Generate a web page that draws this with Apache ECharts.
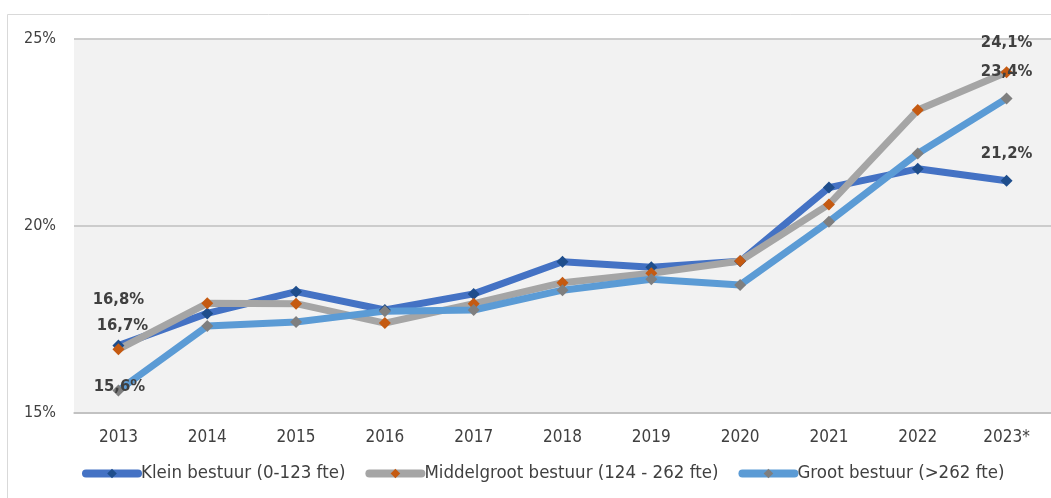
<!DOCTYPE html>
<html>
<head>
<meta charset="utf-8">
<script src="https://cdn.jsdelivr.net/npm/echarts@6/dist/echarts.min.js"></script>
<style>
  html, body { margin: 0; padding: 0; background: #fff; }
  #chart { width: 1051px; height: 498px; }
</style>
</head>
<body>
<div id="chart"></div>
<script>
const years = ['2013', '2014', '2015', '2016', '2017', '2018', '2019', '2020', '2021', '2022', '2023*'];
const yTicks = [15, 20, 25];

const seriesNames = [
  'Klein bestuur (0-123 fte)',
  'Middelgroot bestuur (124 - 262 fte)',
  'Groot bestuur (>262 fte)'
];
const klein = [16.8, 17.66, 18.24, 17.75, 18.18, 19.04, 18.89, 19.05, 21.02, 21.52, 21.2];
const middelgroot = [16.7, 17.93, 17.92, 17.4, 17.92, 18.48, 18.73, 19.06, 20.57, 23.09, 24.1];
const groot = [15.6, 17.32, 17.43, 17.72, 17.75, 18.28, 18.57, 18.42, 20.11, 21.93, 23.4];

// which points carry a value label, and how far the label sits from the point
const labelOffsets = {
  klein: { 0: [0, -46], 10: [0, -27] },
  middelgroot: { 0: [4, -24], 10: [0, -29] },
  groot: { 0: [1, -4], 10: [0, -27] }
};

const chart = echarts.init(document.getElementById('chart'), null, { renderer: 'canvas' });

const axisFont = '"DejaVu Sans Condensed", "DejaVu Sans", sans-serif';

function fmt(v) {
  return v.toFixed(1).replace('.', ',') + '%';
}

function buildData(values, offsets) {
  return values.map((v, i) => {
    if (offsets[i] === undefined) return v;
    return {
      value: v,
      label: {
        show: true,
        position: 'inside',
        offset: offsets[i],
        formatter: () => fmt(v),
        fontFamily: axisFont,
        fontWeight: 'bold',
        fontSize: 16.5,
        color: '#404040'
      }
    };
  });
}

function makeSeries(name, values, offsets, lineColor, markerColor) {
  return {
    name: name,
    type: 'line',
    data: buildData(values, offsets),
    symbol: 'diamond',
    symbolSize: 12,
    showAllSymbol: true,
    lineStyle: { width: 7, color: lineColor, cap: 'round', join: 'round' },
    itemStyle: { color: markerColor, borderWidth: 0 },
    label: { show: false },
    emphasis: { disabled: true },
    animation: false
  };
}

const option = {
  backgroundColor: '#ffffff',
  animation: false,
  graphic: [{
    type: 'rect',
    shape: { x: 7.5, y: 14.5, width: 1100, height: 600 },
    style: { fill: 'none', stroke: '#d9d9d9', lineWidth: 1 },
    silent: true
  }],
  grid: {
    left: 74,
    top: 38.5,
    width: 980,
    height: 374.5,
    show: true,
    backgroundColor: '#f2f2f2',
    borderWidth: 0
  },
  legend: {
    left: 77,
    top: 459,
    itemWidth: 52,
    itemHeight: 12,
    itemGap: 20,
    lineStyle: { width: 8 },
    textStyle: { fontFamily: axisFont, fontSize: 18.5, color: '#404040', padding: [0, 0, 0, -2] },
    data: seriesNames
  },
  xAxis: {
    type: 'category',
    data: years,
    boundaryGap: true,
    axisLine: { show: true, lineStyle: { color: '#bfbfbf', width: 1.5 } },
    axisTick: { show: false },
    axisLabel: { margin: 16, fontFamily: axisFont, fontSize: 17, color: '#404040' },
    splitLine: { show: false }
  },
  yAxis: {
    type: 'value',
    min: yTicks[0],
    max: yTicks[yTicks.length - 1],
    interval: yTicks[1] - yTicks[0],
    axisLine: { show: false },
    axisTick: { show: false },
    axisLabel: {
      margin: 18,
      formatter: '{value}%',
      fontFamily: axisFont,
      fontSize: 16,
      color: '#404040'
    },
    splitLine: { show: true, lineStyle: { color: '#bfbfbf', width: 1.5 } }
  },
  series: [
    makeSeries(seriesNames[0], klein, labelOffsets.klein, '#4472c4', '#1f4e8c'),
    makeSeries(seriesNames[1], middelgroot, labelOffsets.middelgroot, '#a5a5a5', '#c55a11'),
    makeSeries(seriesNames[2], groot, labelOffsets.groot, '#5b9bd5', '#7f7f7f')
  ]
};

chart.setOption(option);
</script>
</body>
</html>
